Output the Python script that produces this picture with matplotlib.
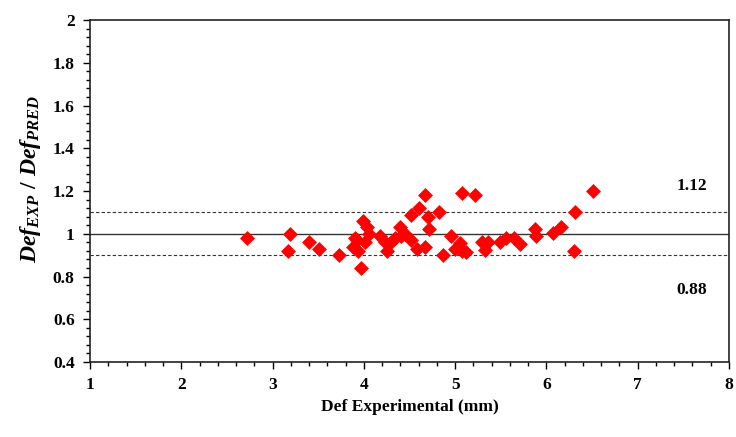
import numpy as np
import matplotlib.pyplot as plt
from matplotlib.ticker import MultipleLocator

plt.rcParams['font.family'] = 'Liberation Serif'
plt.rcParams['font.weight'] = 'bold'
plt.rcParams['mathtext.fontset'] = 'custom'
plt.rcParams['mathtext.it'] = 'Liberation Serif:italic:bold'
plt.rcParams['mathtext.rm'] = 'Liberation Serif:bold'
plt.rcParams['mathtext.bf'] = 'Liberation Serif:bold'

# experimental deflection (mm) and ratio exp/pred
def_exp = [2.72, 3.19, 3.17, 3.40, 3.51, 3.73, 3.97, 3.99, 4.03, 4.06,
           3.90, 3.88, 3.94, 4.01, 4.18, 4.23, 4.25, 4.34, 4.40, 4.45,
           4.41, 4.52, 4.58, 4.52, 4.60, 4.67, 4.67, 4.70, 4.71, 4.82,
           5.08, 5.22, 4.95, 4.87, 5.00, 5.05, 5.07, 5.12, 5.29, 5.36,
           5.33, 5.49, 5.56, 5.64, 5.71, 5.87, 5.89, 6.07, 6.16, 6.31,
           6.30, 6.51, 4.29, 3.93]
ratio = [0.98, 1.00, 0.92, 0.96, 0.93, 0.90, 0.84, 1.06, 1.03, 1.00,
         0.98, 0.94, 0.92, 0.96, 0.99, 0.96, 0.92, 0.98, 1.03, 1.00,
         0.99, 0.97, 0.93, 1.09, 1.12, 1.18, 0.94, 1.08, 1.02, 1.10,
         1.19, 1.18, 0.99, 0.90, 0.93, 0.955, 0.92, 0.915, 0.96, 0.96,
         0.925, 0.96, 0.98, 0.98, 0.95, 1.02, 0.99, 1.005, 1.03, 1.10,
         0.92, 1.20, 0.955, 0.97]

upper = 1.1
lower = 0.9
upper_label = '1.12'
lower_label = '0.88'

fig = plt.figure(figsize=(7.36, 4.37), dpi=100)
ax = fig.add_axes([0.1223, 0.1716, 0.8682, 0.7826])

ax.axhline(1.0, color='#333333', lw=1.0, zorder=1)
ax.axhline(upper, color='#333333', lw=0.8, ls=(0, (3, 2)), zorder=1)
ax.axhline(lower, color='#333333', lw=0.8, ls=(0, (3, 2)), zorder=1)

ax.scatter(def_exp, ratio, marker='D', s=58, color='#ff0000', linewidths=0, zorder=3)

ax.text(7.59, 1.223, upper_label, ha='center', va='center', fontsize=12.5, fontweight='bold')
ax.text(7.59, 0.737, lower_label, ha='center', va='center', fontsize=12.5, fontweight='bold')

ax.set_xlim(1, 8)
ax.set_ylim(0.4, 2)
ax.xaxis.set_major_locator(MultipleLocator(1))
ax.xaxis.set_minor_locator(MultipleLocator(0.2))
ax.yaxis.set_major_locator(MultipleLocator(0.2))
ax.yaxis.set_minor_locator(MultipleLocator(0.04))
ax.set_yticks(np.arange(0.4, 2.01, 0.2))
ax.set_yticklabels(['0.4', '0.6', '0.8', '1', '1.2', '1.4', '1.6', '1.8', '2'])
ax.tick_params(which='major', direction='out', length=5, width=1, labelsize=12.5, pad=6)
ax.tick_params(which='minor', direction='out', length=3, width=1)
ax.tick_params(axis='x', pad=6)
for sp in ax.spines.values():
    sp.set_linewidth(1.2)
    sp.set_color('#222222')

ax.set_xlabel('Def Experimental (mm)', fontsize=12.5, fontweight='bold', labelpad=4)
ax.set_ylabel(r'$Def_{EXP}\ /\ Def_{PRED}$', fontsize=17, labelpad=7)
ax.yaxis.label.set_y(0.535)

plt.savefig('out.png', dpi=100)
